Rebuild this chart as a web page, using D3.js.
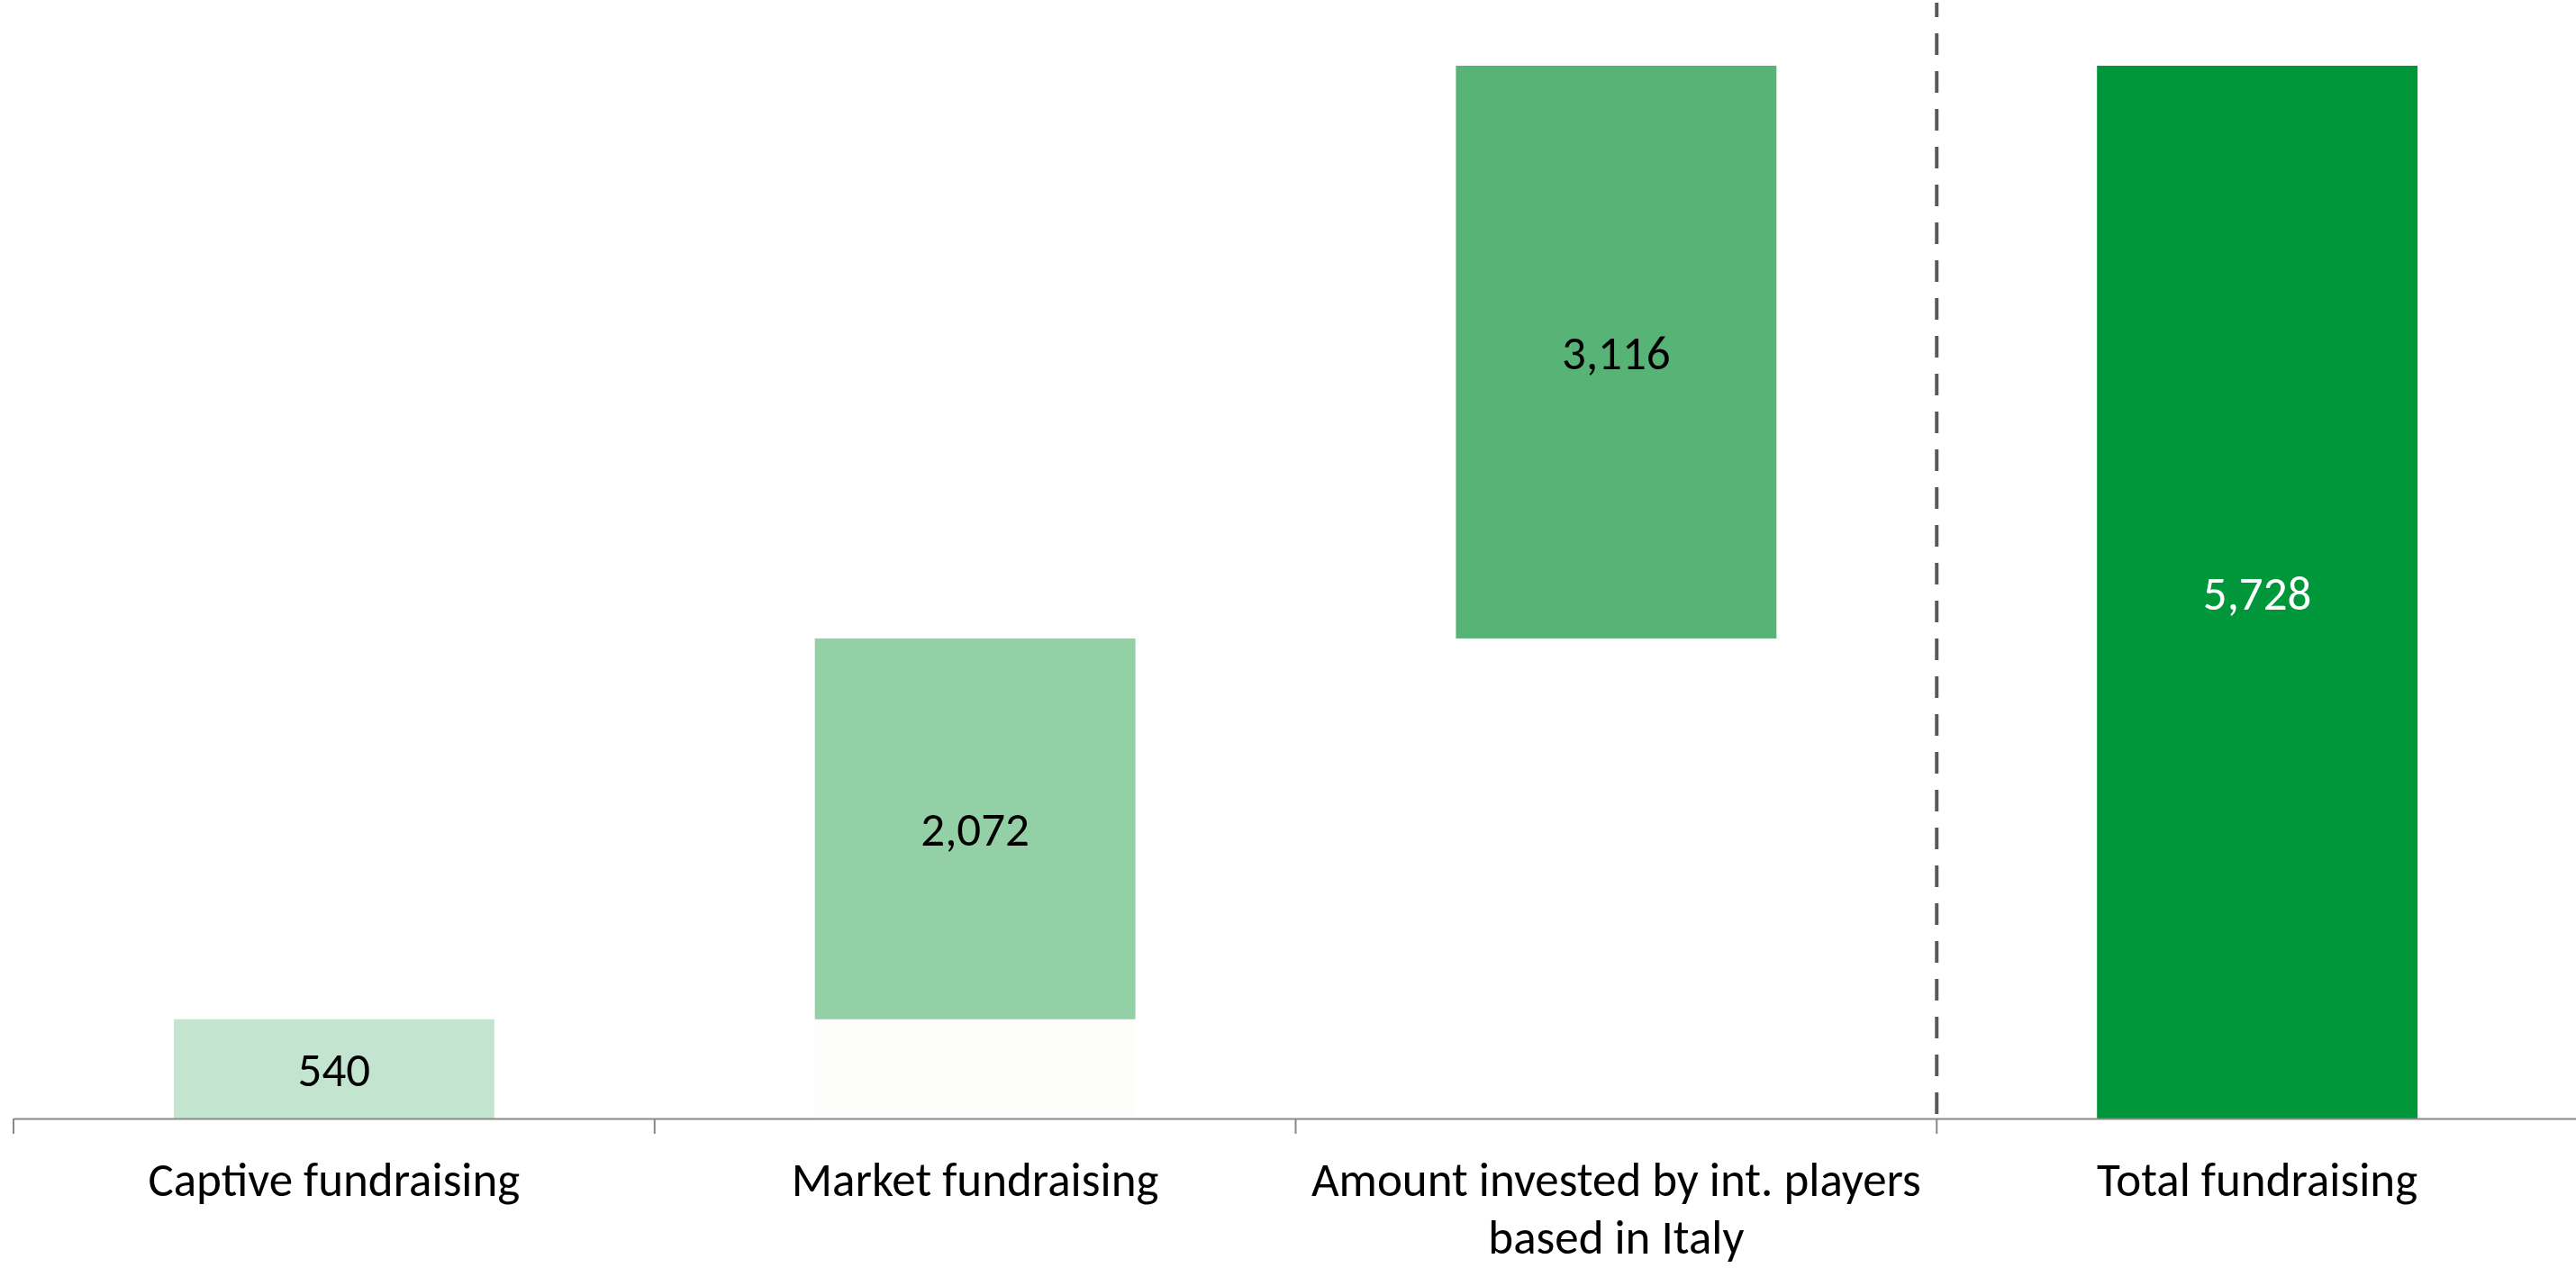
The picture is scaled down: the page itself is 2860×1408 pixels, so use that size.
<!DOCTYPE html>
<html>
<head>
<meta charset="utf-8">
<script src="https://cdn.jsdelivr.net/npm/d3@7"></script>
<style>
  body { margin: 0; background: #ffffff; }
  svg text { font-family: Calibri, Carlito, Lato, sans-serif; }
</style>
</head>
<body>
<div id="chart"></div>
<script>
// Waterfall data: three contributions and the total
var categories = ["Captive fundraising", "Market fundraising", "Amount invested", "Total fundraising"];
var tickLabels = [["Captive fundraising"], ["Market fundraising"], ["Amount invested by int. players", "based in Italy"], ["Total fundraising"]];
var values = [540, 2072, 3116, 5728];
var isTotal = [false, false, false, true];

// canvas size and layout
var width = 2860;
var height = 1408;
var axisY = 1242;
var fontSize = 53;

// fills for the visible bars and for the hidden base bars
var barColors = ["#c3e5d0", "#93d0a6", "#58b377", "#00963a"];
var baseColors = ["none", "#fdfdfb", "#ffffff", "none"];
var labelColors = ["#000000", "#000000", "#000000", "#ffffff"];

// running start of each floating bar
var bases = [];
var running = 0;
values.forEach(function (v, i) {
    if (isTotal[i]) {
        bases.push(0);
    } else {
        bases.push(running);
        running += v;
    }
});

var svg = d3.select('#chart')
    .append('svg')
    .attr('width', width)
    .attr('height', height);

var x = d3.scaleBand()
    .domain(categories)
    .range([15, 2862])
    .paddingInner(0.5)
    .paddingOuter(0.25);

var y = d3.scaleLinear()
    .domain([0, 6000])
    .range([axisY, 17.5]);

// hidden base bars
svg.selectAll('.base')
    .data(categories)
    .enter()
    .append('rect')
    .attr('class', 'base')
    .attr('x', function (d) { return x(d); })
    .attr('width', x.bandwidth())
    .attr('y', function (d, i) { return y(bases[i]); })
    .attr('height', function (d, i) { return y(0) - y(bases[i]); })
    .attr('fill', function (d, i) { return baseColors[i]; });

// visible bars
svg.selectAll('.bar')
    .data(categories)
    .enter()
    .append('rect')
    .attr('class', 'bar')
    .attr('x', function (d) { return x(d); })
    .attr('width', x.bandwidth())
    .attr('y', function (d, i) { return y(bases[i] + values[i]); })
    .attr('height', function (d, i) { return y(bases[i]) - y(bases[i] + values[i]); })
    .attr('fill', function (d, i) { return barColors[i]; });

// value labels in the middle of each bar
svg.selectAll('.value')
    .data(categories)
    .enter()
    .append('text')
    .attr('class', 'value')
    .attr('x', function (d) { return x(d) + x.bandwidth() / 2; })
    .attr('y', function (d, i) { return (y(bases[i]) + y(bases[i] + values[i])) / 2 + 19; })
    .attr('text-anchor', 'middle')
    .style('font-size', fontSize + 'px')
    .attr('fill', function (d, i) { return labelColors[i]; })
    .text(function (d, i) { return d3.format(',')(values[i]); });

// dashed separator before the total
svg.append('line')
    .attr('x1', x.range()[0] + 3 * x.step())
    .attr('x2', x.range()[0] + 3 * x.step())
    .attr('y1', 3)
    .attr('y2', axisY)
    .attr('stroke', '#595959')
    .attr('stroke-width', 4)
    .attr('stroke-dasharray', '24,18')
    .attr('stroke-dashoffset', 8);

// x axis line
var xAxis = svg.append('g')
    .attr('transform', 'translate(0,' + axisY + ')')
    .call(d3.axisBottom(x).tickSize(0).tickSizeOuter(0).tickFormat(''));
xAxis.select('.domain')
    .attr('stroke', '#898989')
    .attr('stroke-width', 2);

// boundary ticks between categories
xAxis.selectAll('.sep')
    .data(d3.range(categories.length + 1))
    .enter()
    .append('line')
    .attr('class', 'sep')
    .attr('x1', function (i) { return x.range()[0] + i * x.step(); })
    .attr('x2', function (i) { return x.range()[0] + i * x.step(); })
    .attr('y1', 0)
    .attr('y2', 17)
    .attr('stroke', '#898989')
    .attr('stroke-width', 2);

// category labels, wrapped where needed
var catLabel = svg.selectAll('.cat')
    .data(categories)
    .enter()
    .append('text')
    .attr('class', 'cat')
    .attr('text-anchor', 'middle')
    .style('font-size', fontSize + 'px')
    .attr('fill', '#000000');

catLabel.each(function (d, i) {
    var t = d3.select(this);
    tickLabels[i].forEach(function (line, j) {
        t.append('tspan')
            .attr('x', x(d) + x.bandwidth() / 2)
            .attr('y', 1328 + j * 64)
            .text(line);
    });
});
</script>
</body>
</html>
